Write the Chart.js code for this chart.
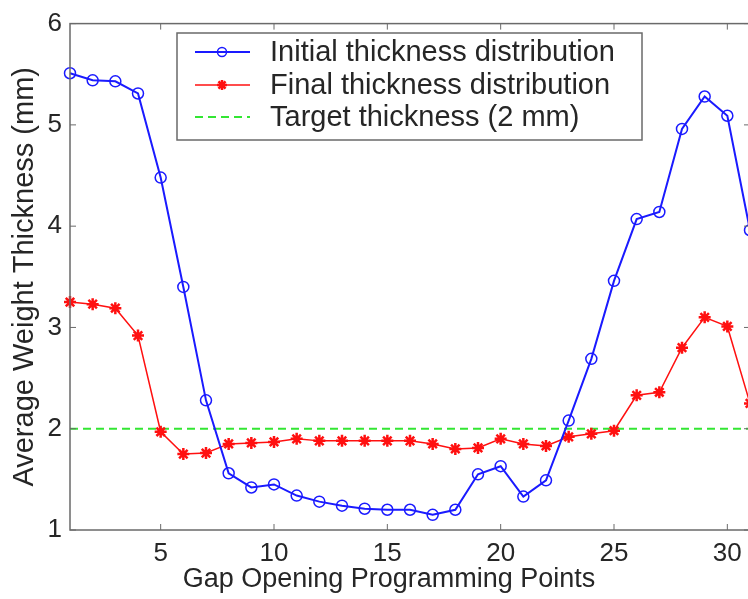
<!DOCTYPE html>
<html>
<head>
<meta charset="utf-8">
<script src="https://cdn.jsdelivr.net/npm/chart.js@4"></script>
<style>
  html, body { margin: 0; padding: 0; background: #fff; overflow: hidden; }
  #wrap { width: 760px; height: 599px; }
</style>
</head>
<body>
<div id="wrap"><canvas id="myChart" width="760" height="599"></canvas></div>
<script>
// Gap opening programming points (x) and thickness values
var gapPoints = [1, 2, 3, 4, 5, 6, 7, 8, 9, 10, 11, 12, 13, 14, 15, 16,
  17, 18, 19, 20, 21, 22, 23, 24, 25, 26, 27, 28, 29, 30, 31];
var initialThickness = [5.51, 5.44, 5.43, 5.31, 4.48, 3.40, 2.28, 1.56, 1.42, 1.45,
  1.34, 1.28, 1.24, 1.21, 1.20, 1.20, 1.15, 1.20, 1.55, 1.63, 1.33, 1.49, 2.08,
  2.69, 3.46, 4.07, 4.14, 4.96, 5.28, 5.09, 3.96];
var finalThickness = [3.25, 3.23, 3.19, 2.92, 1.97, 1.75, 1.76, 1.85, 1.86, 1.87,
  1.90, 1.88, 1.88, 1.88, 1.88, 1.88, 1.85, 1.80, 1.81, 1.90, 1.85, 1.83, 1.92,
  1.95, 1.98, 2.33, 2.36, 2.80, 3.10, 3.01, 2.25];
var targetX = [1, 31];
var targetThickness = [2, 2];
var xTicks = [5, 10, 15, 20, 25, 30];
var yTicks = [1, 2, 3, 4, 5, 6];
var seriesLabels = [
  "Initial thickness distribution",
  "Final thickness distribution",
  "Target thickness (2 mm)"
];
var xTitle = "Gap Opening Programming Points";
var yTitle = "Average Weight Thickness (mm)";

var FONT = "'Liberation Sans', Arial, sans-serif";
var TEXT = "#262626";
var FRAME = "#6a6a6a";

function toXY(xs, ys) {
  return xs.map(function (x, i) {
    return { x: x, y: ys[i] };
  });
}

// Box around plot area plus inward tick marks (MATLAB style)
var framePlugin = {
  id: "frame",
  afterDatasetsDraw: function (chart) {
    var ctx = chart.ctx;
    var a = chart.chartArea;
    var xs = chart.scales.x;
    var ys = chart.scales.y;
    ctx.save();
    ctx.strokeStyle = FRAME;
    ctx.lineWidth = 1.5;
    ctx.strokeRect(a.left, a.top, a.right - a.left, a.bottom - a.top);
    ctx.lineWidth = 1;
    ctx.beginPath();
    xTicks.forEach(function (v) {
      var px = xs.getPixelForValue(v);
      ctx.moveTo(px, a.bottom);
      ctx.lineTo(px, a.bottom - 6);
      ctx.moveTo(px, a.top);
      ctx.lineTo(px, a.top + 6);
    });
    yTicks.forEach(function (v) {
      var py = ys.getPixelForValue(v);
      ctx.moveTo(a.left, py);
      ctx.lineTo(a.left + 6, py);
      ctx.moveTo(a.right, py);
      ctx.lineTo(a.right - 6, py);
    });
    ctx.stroke();

    // x axis title, centred on the visible part of the axes
    ctx.fillStyle = TEXT;
    ctx.font = "27px " + FONT;
    ctx.textAlign = "center";
    ctx.textBaseline = "middle";
    ctx.fillText(xTitle, 389, 580);
    ctx.restore();
  },
};

// Legend box drawn inside the plot area
var boxLegendPlugin = {
  id: "boxLegend",
  afterDraw: function (chart) {
    var ctx = chart.ctx;
    var left = 177, top = 33, w = 465, h = 107;
    ctx.save();
    ctx.fillStyle = "#fff";
    ctx.fillRect(left, top, w, h);
    ctx.strokeStyle = FRAME;
    ctx.lineWidth = 1.5;
    ctx.strokeRect(left, top, w, h);
    var rows = [52, 85, 117];
    chart.data.datasets.forEach(function (ds, i) {
      var y = rows[i];
      ctx.strokeStyle = ds.borderColor;
      ctx.lineWidth = ds.borderWidth;
      ctx.setLineDash(ds.borderDash || []);
      ctx.beginPath();
      ctx.moveTo(195, y);
      ctx.lineTo(250, y);
      ctx.stroke();
      ctx.setLineDash([]);
      if (ds.pointRadius > 0) {
        ctx.fillStyle = ds.pointBackgroundColor;
        ctx.strokeStyle = ds.pointBorderColor;
        ctx.lineWidth = ds.pointBorderWidth;
        Chart.helpers.drawPoint(ctx, {
          pointStyle: ds.pointStyle,
          radius: ds.pointRadius - 1,
          borderWidth: ds.pointBorderWidth,
        }, 222, y);
      }
      ctx.fillStyle = TEXT;
      ctx.font = "29px " + FONT;
      ctx.textBaseline = "middle";
      ctx.fillText(ds.label, 270, y + 1);
    });
    ctx.restore();
  },
};

var ctx = document.getElementById("myChart").getContext("2d");
var myChart = new Chart(ctx, {
  type: "line",
  data: {
    datasets: [
      {
        label: seriesLabels[0],
        data: toXY(gapPoints, initialThickness),
        borderColor: "#1a1aff",
        backgroundColor: "rgba(0,0,0,0)",
        borderWidth: 2,
        pointStyle: "circle",
        pointRadius: 5.5,
        pointBorderWidth: 1.5,
        pointBorderColor: "#1a1aff",
        pointBackgroundColor: "rgba(0,0,0,0)",
        tension: 0,
        clip: false,
        order: 1,
      },
      {
        label: seriesLabels[1],
        data: toXY(gapPoints, finalThickness),
        borderColor: "#ff1010",
        backgroundColor: "#ff1010",
        borderWidth: 1.5,
        pointStyle: "star",
        pointRadius: 6,
        pointBorderWidth: 2.5,
        pointBorderColor: "#ff1010",
        pointBackgroundColor: "#ff1010",
        tension: 0,
        clip: false,
        order: 2,
      },
      {
        label: seriesLabels[2],
        data: toXY(targetX, targetThickness),
        borderColor: "#33e633",
        backgroundColor: "#33e633",
        borderWidth: 2,
        borderDash: [8, 5],
        pointRadius: 0,
        tension: 0,
        clip: false,
        order: 3,
      },
    ],
  },
  options: {
    responsive: false,
    animation: false,
    layout: {
      padding: { top: 17, right: 10, left: 0, bottom: 0 },
    },
    plugins: {
      legend: { display: false },
      tooltip: { enabled: false },
    },
    scales: {
      x: {
        type: "linear",
        min: 1,
        max: 31,
        afterBuildTicks: function (scale) {
          scale.ticks = xTicks.map(function (v) {
            return { value: v };
          });
        },
        afterFit: function (scale) {
          scale.height = 69;
        },
        grid: { display: true, drawOnChartArea: false, drawTicks: false },
        border: { display: false },
        ticks: {
          padding: 8,
          maxRotation: 0,
          color: TEXT,
          font: { family: FONT, size: 26 },
        },
        title: { display: false },
      },
      y: {
        min: 1,
        max: 6,
        afterBuildTicks: function (scale) {
          scale.ticks = yTicks.map(function (v) {
            return { value: v };
          });
        },
        afterFit: function (scale) {
          scale.width = 70;
        },
        grid: { display: true, drawOnChartArea: false, drawTicks: false },
        border: { display: false },
        ticks: {
          padding: 8,
          color: TEXT,
          font: { family: FONT, size: 26 },
        },
        title: {
          display: true,
          text: yTitle,
          color: TEXT,
          font: { family: FONT, size: 29 },
          padding: { top: 8, bottom: 0 },
        },
      },
    },
  },
  plugins: [framePlugin, boxLegendPlugin],
});
</script>
</body>
</html>
